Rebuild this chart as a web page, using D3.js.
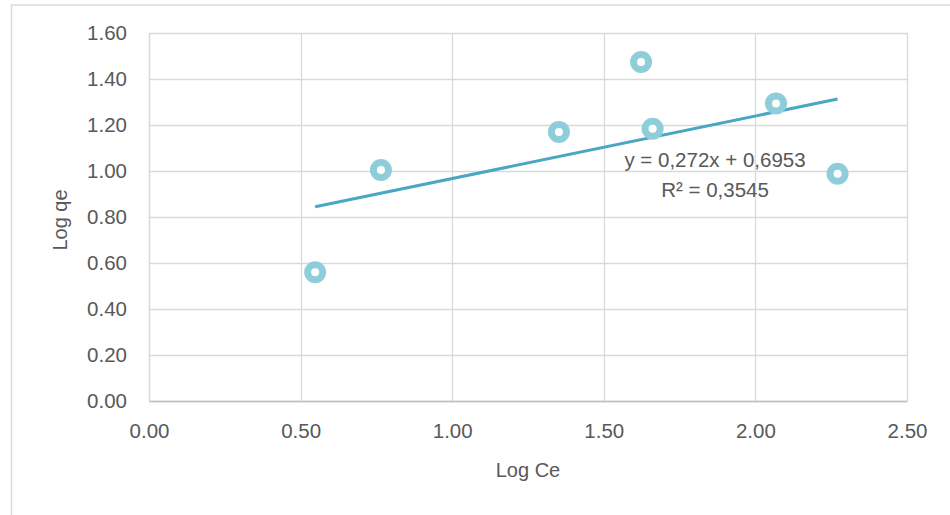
<!DOCTYPE html>
<html>
<head>
<meta charset="utf-8">
<script src="https://cdn.jsdelivr.net/npm/d3@7"></script>
<style>
  html, body { margin: 0; padding: 0; background: #fff; }
  svg { display: block; }
  text { font-family: "Liberation Sans", Arial, sans-serif; fill: #595959; }
</style>
</head>
<body>
<svg id="chart" width="950" height="515"></svg>
<script>
// ---- data ----
const logCe = [0.548, 0.765, 1.352, 1.623, 1.661, 2.068, 2.271];
const logQe = [0.560, 1.004, 1.170, 1.474, 1.184, 1.294, 0.988];
const xTicks = [0, 0.5, 1.0, 1.5, 2.0, 2.5];
const yTicks = [0, 0.2, 0.4, 0.6, 0.8, 1.0, 1.2, 1.4, 1.6];
const trendSlope = 0.272;
const trendIntercept = 0.6953;
const equationLines = ["y = 0,272x + 0,6953", "R² = 0,3545"];
const xTitle = "Log Ce";
const yTitle = "Log qe";

// ---- layout ----
const svg = d3.select("#chart");
const plot = { left: 149, right: 907, top: 33, bottom: 401 };
const x = d3.scaleLinear().domain([0, 2.5]).range([plot.left, plot.right]);
const y = d3.scaleLinear().domain([0, 1.6]).range([plot.bottom, plot.top]);
const grid = "#d9d9d9";

// outer chart border (left and top only visible)
svg.append("path")
  .attr("d", "M11.5,520 L11.5,5 L952,5")
  .attr("fill", "none").attr("stroke", "#d9d9d9").attr("stroke-width", 1.5);

// gridlines
svg.append("g").selectAll("line").data(yTicks).join("line")
  .attr("x1", plot.left).attr("x2", plot.right)
  .attr("y1", d => Math.round(y(d)) + 0.5).attr("y2", d => Math.round(y(d)) + 0.5)
  .attr("stroke", grid).attr("stroke-width", 1.3);
svg.append("g").selectAll("line").data(xTicks).join("line")
  .attr("y1", plot.top).attr("y2", plot.bottom)
  .attr("x1", d => Math.round(x(d)) + 0.5).attr("x2", d => Math.round(x(d)) + 0.5)
  .attr("stroke", grid).attr("stroke-width", 1.3);

// axes (labels only via d3 axes)
const fmt = d3.format(".2f");
const gx = svg.append("g").attr("transform", `translate(0,${plot.bottom})`)
  .call(d3.axisBottom(x).tickValues(xTicks).tickFormat(fmt).tickSize(0).tickPadding(22));
const gy = svg.append("g").attr("transform", `translate(${plot.left},0)`)
  .call(d3.axisLeft(y).tickValues(yTicks).tickFormat(fmt).tickSize(0).tickPadding(22));
[gx, gy].forEach(g => {
  g.select(".domain").attr("stroke", "#bfbfbf").attr("stroke-width", 1.3);
  g.selectAll("text").attr("font-family", "Liberation Sans, Arial, sans-serif")
    .attr("font-size", 20.5).attr("fill", "#595959");
});
gx.select(".domain").attr("stroke", "#bfbfbf");
gy.select(".domain").attr("stroke", grid);

// trendline
const xMin = d3.min(logCe), xMax = d3.max(logCe);
svg.append("line")
  .attr("x1", x(xMin)).attr("y1", y(trendSlope * xMin + trendIntercept))
  .attr("x2", x(xMax)).attr("y2", y(trendSlope * xMax + trendIntercept))
  .attr("stroke", "#4aa7c3").attr("stroke-width", 3).attr("stroke-linecap", "butt");

// markers
svg.append("g").selectAll("circle").data(logCe).join("circle")
  .attr("cx", d => x(d)).attr("cy", (d, i) => y(logQe[i]))
  .attr("r", 7.5).attr("fill", "#fff")
  .attr("stroke", "#8fcddb").attr("stroke-width", 7);

// equation label
svg.append("g").selectAll("text").data(equationLines).join("text")
  .attr("x", 715).attr("y", (d, i) => 167 + i * 30)
  .attr("text-anchor", "middle").attr("font-size", 20.5)
  .text(d => d);

// axis titles
svg.append("text").attr("x", (plot.left + plot.right) / 2 - 0).attr("y", 477)
  .attr("text-anchor", "middle").attr("font-size", 20).text(xTitle);
svg.append("text")
  .attr("transform", `translate(67,${(plot.top + plot.bottom) / 2 + 3}) rotate(-90)`)
  .attr("text-anchor", "middle").attr("font-size", 20).text(yTitle);
</script>
</body>
</html>
